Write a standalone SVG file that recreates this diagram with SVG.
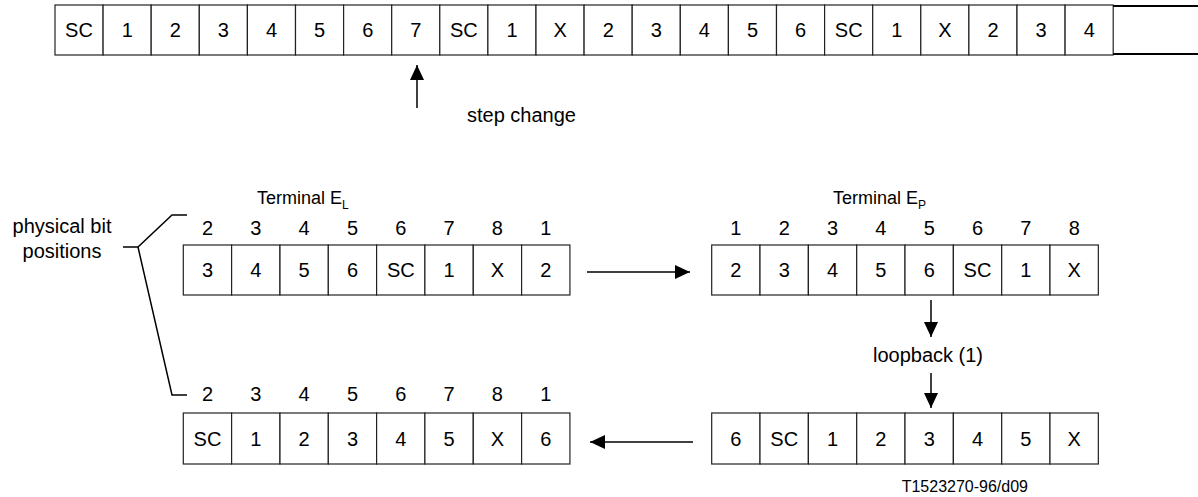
<svg xmlns="http://www.w3.org/2000/svg" width="1198" height="497" viewBox="0 0 1198 497">
<style>
.c{fill:#fff;stroke:#222;stroke-width:1.2}
.t{font-family:"Liberation Sans",Arial,sans-serif;font-size:20px;fill:#000;text-anchor:middle}
.l{font-family:"Liberation Sans",Arial,sans-serif;font-size:20px;fill:#000}
.term{font-family:"Liberation Sans",Arial,sans-serif;font-size:18px;fill:#000}
.code{font-family:"Liberation Sans",Arial,sans-serif;font-size:16px;fill:#000;text-anchor:end}
.ln{stroke:#000;stroke-width:1.5;fill:none}
</style>
<defs>
<marker id="ah" markerWidth="15" markerHeight="14" refX="15" refY="7" orient="auto" markerUnits="userSpaceOnUse">
<path d="M0,0 L15,7 L0,14 Z" fill="#000"/>
</marker>
</defs>
<rect width="1198" height="497" fill="#fff"/>
<g id="top-strip">
<rect class="c" x="55" y="5" width="48.1" height="50"/><text class="t" x="79" y="37">SC</text>
<rect class="c" x="103.1" y="5" width="48.1" height="50"/><text class="t" x="127.2" y="37">1</text>
<rect class="c" x="151.2" y="5" width="48.1" height="50"/><text class="t" x="175.3" y="37">2</text>
<rect class="c" x="199.3" y="5" width="48.1" height="50"/><text class="t" x="223.4" y="37">3</text>
<rect class="c" x="247.4" y="5" width="48.1" height="50"/><text class="t" x="271.5" y="37">4</text>
<rect class="c" x="295.5" y="5" width="48.1" height="50"/><text class="t" x="319.6" y="37">5</text>
<rect class="c" x="343.6" y="5" width="48.1" height="50"/><text class="t" x="367.7" y="37">6</text>
<rect class="c" x="391.7" y="5" width="48.1" height="50"/><text class="t" x="415.8" y="37">7</text>
<rect class="c" x="439.8" y="5" width="48.1" height="50"/><text class="t" x="463.9" y="37">SC</text>
<rect class="c" x="487.9" y="5" width="48.1" height="50"/><text class="t" x="512" y="37">1</text>
<rect class="c" x="536" y="5" width="48.1" height="50"/><text class="t" x="560.1" y="37">X</text>
<rect class="c" x="584.1" y="5" width="48.1" height="50"/><text class="t" x="608.2" y="37">2</text>
<rect class="c" x="632.2" y="5" width="48.1" height="50"/><text class="t" x="656.3" y="37">3</text>
<rect class="c" x="680.3" y="5" width="48.1" height="50"/><text class="t" x="704.4" y="37">4</text>
<rect class="c" x="728.4" y="5" width="48.1" height="50"/><text class="t" x="752.5" y="37">5</text>
<rect class="c" x="776.5" y="5" width="48.1" height="50"/><text class="t" x="800.6" y="37">6</text>
<rect class="c" x="824.6" y="5" width="48.1" height="50"/><text class="t" x="848.7" y="37">SC</text>
<rect class="c" x="872.7" y="5" width="48.1" height="50"/><text class="t" x="896.8" y="37">1</text>
<rect class="c" x="920.8" y="5" width="48.1" height="50"/><text class="t" x="944.9" y="37">X</text>
<rect class="c" x="968.9" y="5" width="48.1" height="50"/><text class="t" x="993" y="37">2</text>
<rect class="c" x="1017" y="5" width="48.1" height="50"/><text class="t" x="1041.1" y="37">3</text>
<rect class="c" x="1065.1" y="5" width="48.1" height="50"/><text class="t" x="1089.2" y="37">4</text>
<path d="M1113.2,6 H1198 M1113.2,54 H1198" stroke="#000" stroke-width="2.2" fill="none"/>
</g>
<g id="step-change">
<text class="l" x="467" y="122">step change</text>
</g>
<g id="terminal-labels">
<text class="term" x="257" y="204">Terminal E<tspan font-size="12" dy="5">L</tspan></text>
<text class="term" x="833" y="204">Terminal E<tspan font-size="12" dy="5">P</tspan></text>
</g>
<g id="physical-bit-positions">
<text class="t" x="62" y="233">physical bit</text>
<text class="t" x="62" y="258">positions</text>
<polyline class="ln" points="123,247 138,247 172,215 187,215"/>
<polyline class="ln" points="138,247 172,395 187,395"/>
</g>
<g id="terminal-EL-rx">
<text class="t" x="207.5" y="235">2</text><text class="t" x="255.8" y="235">3</text><text class="t" x="304.1" y="235">4</text><text class="t" x="352.5" y="235">5</text><text class="t" x="400.8" y="235">6</text><text class="t" x="449.1" y="235">7</text><text class="t" x="497.4" y="235">8</text><text class="t" x="545.8" y="235">1</text>
<rect class="c" x="183.3" y="245" width="48.33" height="50"/><text class="t" x="207.5" y="277">3</text>
<rect class="c" x="231.6" y="245" width="48.33" height="50"/><text class="t" x="255.8" y="277">4</text>
<rect class="c" x="280" y="245" width="48.33" height="50"/><text class="t" x="304.1" y="277">5</text>
<rect class="c" x="328.3" y="245" width="48.33" height="50"/><text class="t" x="352.5" y="277">6</text>
<rect class="c" x="376.6" y="245" width="48.33" height="50"/><text class="t" x="400.8" y="277">SC</text>
<rect class="c" x="424.9" y="245" width="48.33" height="50"/><text class="t" x="449.1" y="277">1</text>
<rect class="c" x="473.3" y="245" width="48.33" height="50"/><text class="t" x="497.4" y="277">X</text>
<rect class="c" x="521.6" y="245" width="48.33" height="50"/><text class="t" x="545.8" y="277">2</text>
</g>
<g id="terminal-EP-rx">
<text class="t" x="735.9" y="235">1</text><text class="t" x="784.2" y="235">2</text><text class="t" x="832.5" y="235">3</text><text class="t" x="880.9" y="235">4</text><text class="t" x="929.2" y="235">5</text><text class="t" x="977.5" y="235">6</text><text class="t" x="1025.9" y="235">7</text><text class="t" x="1074.2" y="235">8</text>
<rect class="c" x="711.7" y="245" width="48.33" height="50"/><text class="t" x="735.9" y="277">2</text>
<rect class="c" x="760" y="245" width="48.33" height="50"/><text class="t" x="784.2" y="277">3</text>
<rect class="c" x="808.4" y="245" width="48.33" height="50"/><text class="t" x="832.5" y="277">4</text>
<rect class="c" x="856.7" y="245" width="48.33" height="50"/><text class="t" x="880.9" y="277">5</text>
<rect class="c" x="905" y="245" width="48.33" height="50"/><text class="t" x="929.2" y="277">6</text>
<rect class="c" x="953.4" y="245" width="48.33" height="50"/><text class="t" x="977.5" y="277">SC</text>
<rect class="c" x="1001.7" y="245" width="48.33" height="50"/><text class="t" x="1025.9" y="277">1</text>
<rect class="c" x="1050" y="245" width="48.33" height="50"/><text class="t" x="1074.2" y="277">X</text>
</g>
<g id="loopback">
<text class="t" x="928" y="362">loopback (1)</text>
</g>
<g id="terminal-EP-tx">
<rect class="c" x="711.7" y="413" width="48.33" height="51"/><text class="t" x="735.9" y="446">6</text>
<rect class="c" x="760" y="413" width="48.33" height="51"/><text class="t" x="784.2" y="446">SC</text>
<rect class="c" x="808.4" y="413" width="48.33" height="51"/><text class="t" x="832.5" y="446">1</text>
<rect class="c" x="856.7" y="413" width="48.33" height="51"/><text class="t" x="880.9" y="446">2</text>
<rect class="c" x="905" y="413" width="48.33" height="51"/><text class="t" x="929.2" y="446">3</text>
<rect class="c" x="953.4" y="413" width="48.33" height="51"/><text class="t" x="977.5" y="446">4</text>
<rect class="c" x="1001.7" y="413" width="48.33" height="51"/><text class="t" x="1025.9" y="446">5</text>
<rect class="c" x="1050" y="413" width="48.33" height="51"/><text class="t" x="1074.2" y="446">X</text>
</g>
<g id="terminal-EL-tx">
<text class="t" x="207.5" y="401">2</text><text class="t" x="255.8" y="401">3</text><text class="t" x="304.1" y="401">4</text><text class="t" x="352.5" y="401">5</text><text class="t" x="400.8" y="401">6</text><text class="t" x="449.1" y="401">7</text><text class="t" x="497.4" y="401">8</text><text class="t" x="545.8" y="401">1</text>
<rect class="c" x="183.3" y="413" width="48.33" height="51"/><text class="t" x="207.5" y="446">SC</text>
<rect class="c" x="231.6" y="413" width="48.33" height="51"/><text class="t" x="255.8" y="446">1</text>
<rect class="c" x="280" y="413" width="48.33" height="51"/><text class="t" x="304.1" y="446">2</text>
<rect class="c" x="328.3" y="413" width="48.33" height="51"/><text class="t" x="352.5" y="446">3</text>
<rect class="c" x="376.6" y="413" width="48.33" height="51"/><text class="t" x="400.8" y="446">4</text>
<rect class="c" x="424.9" y="413" width="48.33" height="51"/><text class="t" x="449.1" y="446">5</text>
<rect class="c" x="473.3" y="413" width="48.33" height="51"/><text class="t" x="497.4" y="446">X</text>
<rect class="c" x="521.6" y="413" width="48.33" height="51"/><text class="t" x="545.8" y="446">6</text>
</g>
<g id="figure-code">
<text class="code" x="1028" y="492">T1523270-96/d09</text>
</g>
<g id="connectors">
<line class="ln" x1="417" y1="108" x2="417" y2="65" marker-end="url(#ah)"/>
<line class="ln" x1="587" y1="272" x2="690" y2="272" marker-end="url(#ah)"/>
<line class="ln" x1="931" y1="300" x2="931" y2="337" marker-end="url(#ah)"/>
<line class="ln" x1="931" y1="373" x2="931" y2="408" marker-end="url(#ah)"/>
<line class="ln" x1="693" y1="442" x2="590" y2="442" marker-end="url(#ah)"/>
</g>
</svg>
